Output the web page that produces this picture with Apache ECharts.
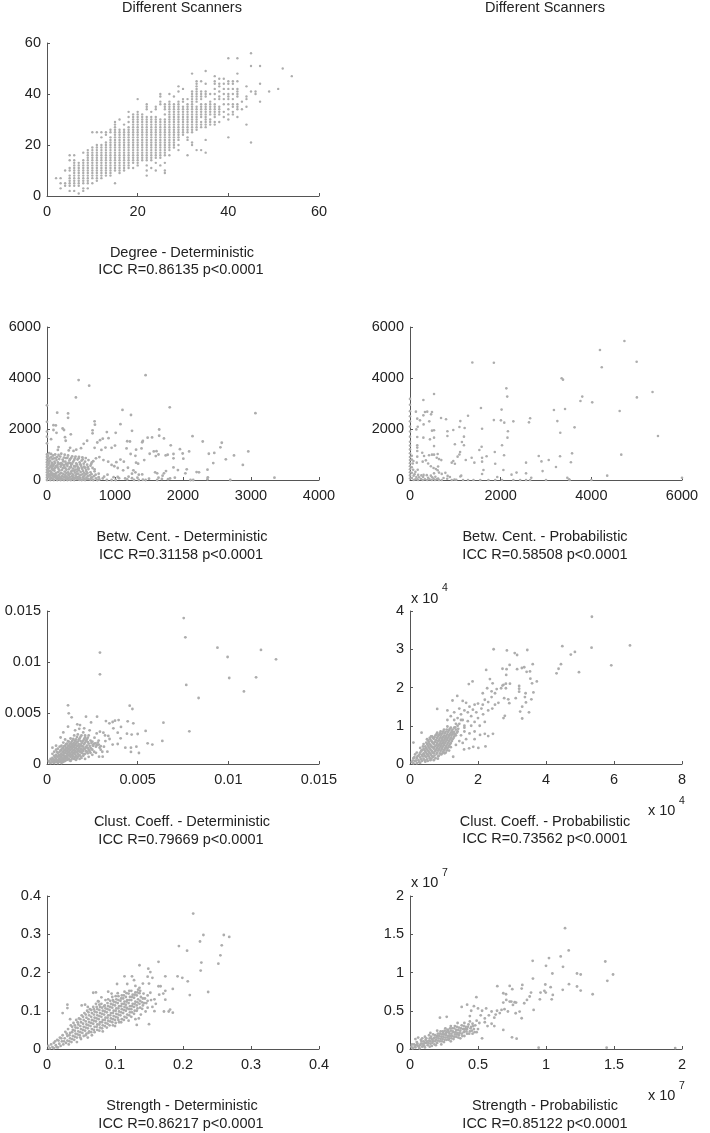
<!DOCTYPE html>
<html><head><meta charset="utf-8">
<style>html,body{margin:0;padding:0;background:#fff}#c{width:710px;height:1133px}</style>
<script src="https://cdn.jsdelivr.net/npm/echarts@6/dist/echarts.min.js"></script>
</head><body><div id="c"></div>
<script>
const degreeColumns=[
[2,[7]],[3,[3,5,7]],[4,[4,5,10]],[5,[2,4,5,6,7,8,10,11,14,16]],[6,[2,4,5,6,7,8,9,10,11,12,13,14,16]],
[7,[1,4,5,6,7,8,9,10,11,12,13]],[8,[2,3,5,6,7,8,9,10,11,12,13,14,17]],[9,[3,5,6,7,8,9,10,11,12,13,14,15,16,17,18]],
[10,[5,7,8,9,10,11,12,13,14,15,16,17,18,19,25]],[11,[6,7,8,9,10,11,12,13,14,15,16,17,18,19,20,25]],
[12,[7,8,9,10,11,12,13,14,15,16,17,18,19,20,23,25]],[13,[8,9,10,11,12,13,14,15,16,17,18,19,20,21,24,25]],
[14,[8,9,10,11,12,13,14,15,16,17,18,19,20,21,22,23,25,26]],[15,[5,10,11,12,13,14,15,16,17,18,19,20,21,22,23,24,25,26,27,28,29]],
[16,[9,10,11,12,13,14,15,16,17,18,19,20,21,22,23,24,25,26,30]],[17,[10,11,12,13,14,15,16,17,18,19,20,21,22,23,24,25,26,28]],
[18,[11,12,13,14,15,16,17,18,19,20,21,22,23,24,25,26,27,29,31,33]],[19,[11,13,14,15,16,17,18,19,20,21,22,23,24,25,26,27,28,29,30,31,32]],
[20,[12,13,14,15,16,17,18,19,20,21,22,23,24,25,26,27,28,29,30,31,32,33,38]],[21,[14,15,16,17,18,19,20,21,22,23,24,25,26,27,28,29,30,31,32]],
[22,[8,10,12,14,15,16,17,18,19,20,21,22,23,24,25,26,27,28,29,30,31,34,35,36]],[23,[11,14,15,16,17,18,19,20,21,22,23,24,25,26,27,28,29,30,31,33]],
[24,[10,13,15,16,17,18,19,20,21,22,23,24,25,26,27,28,29,30,31,34,35]],[25,[12,15,16,17,18,19,20,21,22,23,24,25,26,27,28,29,30,36,37,39,40]],
[26,[9,10,13,16,17,18,19,20,21,22,23,24,25,26,27,28,29,30,32,34,35,36]],[27,[16,18,19,20,21,22,23,24,25,26,27,28,29,30,31,32,33,34,35,36,37,40]],
[28,[19,20,21,22,23,24,25,26,27,28,29,30,31,32,33,34,35,36,39]],[29,[18,20,22,23,24,25,26,27,28,29,30,31,32,33,34,35,36,37,41,43]],
[30,[24,25,26,27,28,29,30,31,32,33,34,35,37,38,42]],[31,[16,22,23,25,26,27,28,29,30,31,32,33,34,35,36,38]],
[32,[20,21,25,26,27,28,29,30,31,32,33,34,35,36,37,38,39,40,41,48]],[33,[18,26,27,28,29,30,31,32,33,34,35,37,38,39,40,41,42,43,44,45]],
[34,[18,27,28,29,31,32,33,34,35,36,38,39,40,41,45]],[35,[17,22,27,28,29,30,31,32,33,34,35,36,39,40,41,44,49]],
[36,[28,29,30,32,33,34,35,36,37,40]],[37,[28,29,31,32,33,34,35,36,38,40,42,44,45,47]],
[38,[29,32,33,34,35,38,39,41,43,44,46]],[39,[31,33,36,38,40,42,44,46]],[40,[23,30,32,34,36,38,39,40,42,44,45,54]],
[41,[32,33,35,36,38,40,42,44,45]],[42,[31,34,35,36,39,40,41,42,45,48,54]],[43,[34,37]],[44,[28,35,38,39,43]],
[45,[21,41,51,56]],[46,[40,41]],[47,[37,44,51]],[49,[41]],[51,[42]],[52,[50]],[54,[47]]];

const betwDetOutliers=[[1450,4110],[465,3920],[620,3700],[425,3240],[0,2930],[150,2640],[310,2610],[310,2440],[1110,2750],[1235,2550],[700,2300],[705,2170],[1080,2190],[1805,2850],[3065,2620],[1250,1930],[1650,1980],[95,2150],[130,2140],[230,2020],[250,1960],[670,1950],[670,1830],[880,1880],[350,1790],[265,1680],[275,1540],[95,1960],[140,1850],[1650,1735],[2140,1720],[1480,1660],[1545,1670],[1720,1630],[2290,1510],[2570,1460],[2550,1280],[2960,1120],[2750,965],[2630,810],[2880,590],[2460,1060],[2380,1030],[2090,1120],[1955,1210],[1820,1360],[2445,665],[1860,1020],[1995,1040],[1745,965],[1775,990],[1860,850],[2005,835],[1860,495],[1925,390],[2055,420],[2035,260],[2200,310],[2235,300],[2360,405],[2365,105],[3345,90],[2695,0],[2110,0],[2150,0],[2360,30]];
const betwDetMid=[[1180,1520],[1220,1510],[1010,1850],[905,1640],[820,1620],[780,1560],[740,1470],[590,1540],[540,1420],[500,1250],[430,1190],[390,1140],[340,1260],[320,1160],[170,1290],[160,1180],[60,1600],[0,1440],[0,1700],[0,2280],[0,1900],[1000,1350],[950,1260],[860,1270],[800,1180],[700,1260],[1170,1240],[1310,1190],[1390,1240],[1400,1480],[1410,1530],[1310,680],[1340,640],[1510,1030],[1570,1120],[1610,1130],[1640,1000],[1600,940],[1430,780],[1300,950],[1230,1020],[1080,800],[1130,720],[1020,700],[950,590],[900,720],[830,780],[770,900],[720,850],[680,740],[1190,480],[1120,380],[1270,380],[1300,300],[1350,210],[1400,220],[1250,250],[1040,470],[990,540],[1040,120],[1060,70],[980,110],[890,210],[840,130],[820,60],[760,250],[700,340],[650,80],[1150,60],[1200,130],[1250,70],[1330,90],[1410,10],[1350,0],[1450,0],[1280,0],[1180,20],[1590,300],[1620,260],[1640,90],[1720,260],[1750,350],[1810,60],[1780,30],[1880,90],[1700,170],[1690,40],[1620,0],[1500,50],[880,0],[950,0],[1010,0],[740,0]];
const betwDetCloud=[[0,1000],[0,900],[0,800],[0,700],[0,600],[0,500],[0,400],[0,300],[0,200],[0,100],[0,0],[30,1050],[60,1020],[90,960],[120,1000],[170,980],[210,1030],[260,990],[310,960],[370,930],[420,920],[470,910],[520,890],[570,860],[40,870],[80,820],[130,870],[180,820],[230,800],[280,860],[340,820],[400,780],[450,800],[510,760],[610,780],[660,690],[30,730],[70,680],[110,720],[160,690],[210,660],[270,720],[320,680],[370,640],[430,650],[480,690],[540,640],[590,600],[640,560],[20,590],[60,560],[100,600],[150,560],[200,520],[250,580],[300,550],[350,500],[400,540],[450,520],[500,560],[560,480],[610,430],[670,470],[30,470],[70,430],[120,480],[170,430],[220,400],[270,460],[320,420],[370,370],[420,410],[470,380],[530,350],[580,330],[640,300],[700,420],[20,350],[60,310],[110,360],[160,310],[210,280],[260,330],[310,300],[360,260],[410,290],[460,250],[520,220],[570,230],[630,180],[690,150],[30,230],[70,190],[120,240],[170,190],[220,160],[270,210],[320,180],[370,150],[420,170],[470,130],[530,110],[580,90],[640,10],[20,120],[60,80],[110,130],[160,70],[210,60],[260,100],[310,70],[360,50],[410,80],[460,30],[510,0],[560,0],[50,0],[100,0],[150,0],[200,0],[250,0],[300,0],[350,0],[400,0],[680,0],[760,110]];
const betwDetFill=[[15,950],[45,760],[85,540],[140,780],[190,640],[240,730],[290,610],[330,770],[385,720],[440,600],[490,620],[545,520],[600,500],[650,630],[15,640],[45,520],[85,390],[135,540],[185,370],[235,470],[285,400],[335,490],[385,450],[440,330],[495,310],[545,280],[595,270],[655,230],[715,210],[15,410],[45,350],[85,250],[135,270],[190,250],[240,240],[285,280],[335,240],[385,210],[435,230],[490,190],[550,170],[600,160],[15,280],[45,140],[90,130],[135,170],[185,130],[240,130],[290,130],[335,120],[385,100],[440,110],[490,80],[550,50],[610,40],[15,180],[40,40],[85,40],[130,60],[180,30],[230,30],[280,40],[330,20],[385,30],[435,40],[480,10],[530,20],[590,40],[660,100],[720,60],[770,20],[120,130],[65,260],[105,430],[155,500],[205,590],[255,520],[305,640],[355,590],[415,530],[465,460],[520,430],[575,400],[25,830],[65,900],[105,850],[150,900],[195,920],[250,880],[300,870],[355,860],[410,850],[465,850],[525,810],[560,720],[75,620],[115,660],[165,620],[225,610],[280,640],[345,660],[40,210],[100,190],[150,120],[205,90],[270,150],[315,220],[355,330],[400,360],[450,420],[510,480],[75,480],[30,650]];

const betwProbOutliers=[[4730,5450],[4190,5100],[1375,4610],[1850,4600],[5000,4640],[4230,4420],[3345,3990],[3375,3935],[2125,3595],[5350,3450],[530,3370],[2145,3270],[3800,3270],[5005,3240],[295,3140],[0,3180],[3760,3100],[4020,3045],[1565,2825],[2020,2760],[3175,2745],[3420,2785],[4625,2705],[130,2680],[330,2665],[380,2680],[485,2665],[465,2575],[295,2535],[1280,2520],[685,2430],[795,2380],[160,2405],[220,2340],[425,2300],[1110,2310],[300,2180],[170,2090],[140,1985],[1850,2350],[2005,2340],[2080,2250],[2280,2300],[2650,2420],[2625,2260],[3250,2310],[3630,2065],[3315,1855],[1090,2080],[1205,2040],[1590,2010],[2160,1910],[2150,1660],[5470,1725],[825,1910],[825,1725],[955,1960],[485,1935],[530,1950],[160,1685],[295,1660],[440,1595],[530,1660],[1190,1700],[1145,1490],[1190,1360],[990,1400],[530,1330],[160,1360],[160,1270],[160,1135],[1580,1305],[1530,1175],[2030,1360],[1870,1100],[2075,970],[1105,1100],[1090,1000],[1050,915],[270,1070],[310,940],[420,970],[485,995],[530,995],[610,1020],[590,875],[160,915],[280,720],[150,680],[75,745],[955,745],[920,680],[990,640],[1360,875],[1420,680],[1230,785],[1590,875],[1590,720],[1690,930],[1880,640],[2840,940],[2900,730],[3060,785],[2560,680],[3310,930],[3220,510],[3575,1045],[3550,695],[4660,995],[2925,350],[4350,170],[1620,390],[1590,235],[2060,390],[2350,290],[2240,210],[2560,260],[1925,115],[6000,90],[3470,90],[3510,25],[2675,90],[2650,0],[2430,0],[2560,0],[2280,0],[2030,0],[1880,0],[1730,0],[1550,0],[1400,0],[1280,0],[1170,0],[920,0],[700,0],[3000,0],[3520,0],[4000,0]];
const betwProbCloud=[[0,2950],[0,2700],[0,2500],[0,2300],[0,2100],[0,1900],[0,1700],[0,1500],[0,1350],[0,1200],[0,1050],[0,900],[0,780],[0,660],[0,540],[0,420],[0,300],[0,180],[0,60],[40,950],[40,800],[60,650],[40,500],[70,400],[40,280],[80,170],[40,80],[120,320],[100,230],[140,120],[120,30],[180,200],[200,110],[240,40],[170,400],[250,180],[290,120],[330,30],[300,200],[370,190],[400,90],[430,30],[460,170],[490,110],[520,50],[560,130],[590,30],[620,60],[530,260],[460,540],[520,470],[570,430],[610,380],[640,290],[700,240],[780,280],[830,160],[740,80],[820,50],[880,120],[400,650],[350,770],[620,530],[690,780],[640,820],[160,30],[80,0],[180,0],[280,0],[380,0],[480,0],[550,0],[640,0],[1110,140],[1130,170],[980,20],[1020,10]];

const clustDetOutliers=[[.00754,.01431],[.00763,.01242],[.0094,.0114],[.00996,.01049],[.0118,.01118],[.01263,.01026],[.00292,.01092],[.00292,.00879],[.01005,.00843],[.01153,.0085],[.00768,.00775],[.01086,.00712],[.00836,.00647],[.00785,.0032],[.00116,.00575],[.0012,.00497],[.00136,.00458],[.00116,.00366],[.00215,.00464],[.00276,.00464],[.00456,.00572],[.00471,.00539],[.00445,.00418],[.00476,.00399],[.00642,.00405],[.00544,.00324],[.00636,.00226],[.00555,.00203],[.00581,.0019],[.00507,.00108],[.00493,.0017],[.00463,.0016],[.00463,.00118],[.00432,.0016],[.00408,.00363],[.00395,.00431],[.00375,.00425],[.00362,.00412],[.00344,.00399],[.00325,.00421],[.00243,.00408],[.00182,.00382],[.00167,.00389],[.00441,.00297],[.00467,.00288],[.005,.00294],[.0039,.00307],[.00366,.0035],[.00406,.00252],[.0039,.00196],[.00362,.0019],[.00333,.00121],[.00307,.00072],[.00287,.00072],[.00314,.0017],[.00338,.00275],[.00292,.00317],[.00311,.00307],[.00274,.003],[.00267,.00203],[.00285,.0023],[.00296,.00175],[.00253,.00185],[.00322,.00225],[.00345,.00245],[.0032,.0028],[.00305,.0012],[.0027,.0011],[.00296,.0014],[.00262,.00258],[.00235,.0033],[.00205,.0035],[.00178,.00345],[.0021,.0028],[.00155,.0033],[.0009,.0031],[.00075,.0026],[.0005,.0018],[.0003,.0016]];
const clustDetCloud=[[.0001,.0003],[.0002,.0001],[.0002,.0005],[.0003,.0002],[.0003,.0006],[.0003,.001],[.0004,.0001],[.0004,.0004],[.0004,.0008],[.0004,.0012],[.0005,.0002],[.0005,.0005],[.0005,.0009],[.0005,.0014],[.0006,.0001],[.0006,.0003],[.0006,.0007],[.0006,.0011],[.0006,.0015],[.0007,.0002],[.0007,.0005],[.0007,.0008],[.0007,.0012],[.0007,.0017],[.0008,.0001],[.0008,.0004],[.0008,.0007],[.0008,.001],[.0008,.0014],[.0008,.0018],[.0009,.0002],[.0009,.0005],[.0009,.0009],[.0009,.0012],[.0009,.0016],[.0009,.0021],[.001,.0003],[.001,.0006],[.001,.0008],[.001,.0011],[.001,.0014],[.001,.0018],[.001,.0024],[.0011,.0004],[.0011,.0007],[.0011,.001],[.0011,.0013],[.0011,.0016],[.0011,.002],[.0012,.0005],[.0012,.0009],[.0012,.0012],[.0012,.0015],[.0012,.0018],[.0012,.0022],[.0013,.0003],[.0013,.0007],[.0013,.001],[.0013,.0014],[.0013,.0017],[.0013,.002],[.0013,.0025],[.0014,.0006],[.0014,.0009],[.0014,.0012],[.0014,.0016],[.0014,.0019],[.0014,.0023],[.0015,.0005],[.0015,.0011],[.0015,.0014],[.0015,.0018],[.0015,.0021],[.0015,.0028],[.0016,.0004],[.0016,.0008],[.0016,.0012],[.0016,.0016],[.0016,.002],[.0016,.0024],[.0017,.0007],[.0017,.001],[.0017,.0014],[.0017,.0018],[.0017,.0022],[.0017,.0029],[.0018,.0005],[.0018,.0009],[.0018,.0013],[.0018,.0017],[.0018,.0025],[.0019,.0006],[.0019,.0012],[.0019,.0015],[.0019,.002],[.0019,.0028],[.002,.0008],[.002,.0013],[.002,.0017],[.002,.0023],[.002,.0031],[.0021,.0005],[.0021,.001],[.0021,.0015],[.0021,.0021],[.0021,.0026],[.0022,.0012],[.0022,.0018],[.0022,.0024],[.0023,.0007],[.0023,.0014],[.0023,.002],[.0023,.0028],[.0024,.0011],[.0024,.0016],[.0024,.0023],[.0025,.0009],[.0025,.0014],[.0025,.0022],[.0026,.0012],[.0026,.002],[.0027,.0017],[.0028,.0021],[.0029,.0016]];
const clustDetFill=[[.00015,.00015],[.00025,.00035],[.00035,.00015],[.00035,.00045],[.00045,.00025],[.00045,.00065],[.00055,.00035],[.00055,.00075],[.00055,.00118],[.00065,.00025],[.00065,.0005],[.00065,.0009],[.00075,.00035],[.00075,.00065],[.00075,.00095],[.00075,.00135],[.00085,.00025],[.00085,.00055],[.00085,.00085],[.00085,.00118],[.00085,.00155],[.00095,.00035],[.00095,.00068],[.00095,.00105],[.00095,.00135],[.00095,.00175],[.00105,.00045],[.00105,.00075],[.00105,.00125],[.00105,.00155],[.00105,.00195],[.00115,.00055],[.00115,.00085],[.00115,.00115],[.00115,.00145],[.00115,.00178],[.00115,.00225],[.00125,.00035],[.00125,.00075],[.00125,.00105],[.00125,.00135],[.00125,.00165],[.00125,.00198],[.00135,.00045],[.00135,.00085],[.00135,.00118],[.00135,.00148],[.00135,.00178],[.00135,.00215],[.00145,.00075],[.00145,.00105],[.00145,.00135],[.00145,.00168],[.00145,.00198],[.00145,.00245],[.00155,.00065],[.00155,.00095],[.00155,.00128],[.00155,.00158],[.00155,.00188],[.00155,.00228],[.00165,.00055],[.00165,.00115],[.00165,.00145],[.00165,.00178],[.00165,.00212],[.00165,.00265],[.00175,.00085],[.00175,.00125],[.00175,.00158],[.00175,.00195],[.00175,.00238],[.00185,.00075],[.00185,.00115],[.00185,.00148],[.00185,.00185],[.00185,.00225],[.00185,.00268],[.00195,.00105],[.00195,.00138],[.00195,.00175],[.00195,.00215],[.00205,.00095],[.00205,.00148],[.00205,.00195],[.00205,.00245],[.00215,.00125],[.00215,.00165],[.00215,.00228],[.00225,.00105],[.00225,.00155],[.00225,.00215],[.00225,.00258],[.00235,.00125],[.00235,.00178],[.00245,.00148],[.00245,.00205],[.00255,.00178],[.00275,.00185],[.00285,.0019]];

const clustProbOutliers=[[5.35,3.85],[6.47,3.1],[4.48,3.08],[5.34,3.04],[2.46,3],[2.85,2.97],[3.45,2.98],[3.08,2.9],[3.15,2.85],[4.85,2.93],[4.73,2.86],[4.44,2.61],[5.92,2.58],[3.61,2.61],[4.37,2.49],[4.31,2.37],[4.97,2.4],[2.93,2.59],[2.72,2.49],[2.84,2.48],[2.83,2.33],[2.24,2.46],[3.15,2.48],[3.29,2.51],[3.36,2.53],[3.43,2.41],[3.53,2.42],[3.54,2.23],[3.73,2.16],[3.59,2.11],[3.21,2.04],[3.21,1.97],[3.21,1.89],[3.4,1.85],[3.63,1.87],[3.38,1.75],[3.57,1.69],[3.41,1.61],[3.3,1.5],[3.24,1.37],[3.5,1.35],[3.3,1.19],[2.75,1.2],[2.79,1.26],[2.92,1.59],[2.89,1.69],[2.77,1.72],[3.11,1.72],[2.94,2.1],[2.75,2.07],[2.82,1.98],[2.68,1.98],[2.55,1.96],[2.35,2.22],[2.43,2.11],[2.27,1.98],[2.14,1.85],[1.84,2.16],[1.73,2.09],[1.25,1.66],[1.39,1.78],[1.1,1.4],[.8,1.44],[.34,.82],[.1,.56],[2.44,.79],[2.3,.73],[2.2,.79],[2.06,.76],[2.22,.46],[2.01,.42],[1.86,.45],[1.74,.41],[1.59,.38],[1.27,.19],[2.6,1.6],[2.5,1.85],[2.4,1.9],[2.72,2.05],[2.82,2.1]];
const clustProbMid=[[2.4,1.75],[2.3,1.62],[2.2,1.68],[2.14,1.55],[2.5,1.55],[2.42,1.45],[2.3,1.4],[2.1,1.45],[2.15,1.3],[2,1.58],[1.9,1.55],[1.85,1.42],[1.95,1.35],[1.8,1.25],[2,1.2],[1.9,1.1],[1.75,1.5],[1.65,1.6],[1.55,1.65],[1.7,1.35],[1.6,1.4],[1.5,1.3],[1.55,1.15],[1.7,1.12],[1.8,1],[2.2,1.1],[2.05,1],[1.6,1],[1.45,1.45],[1.3,1.35],[1.4,1.2],[1.3,1.15],[1.45,1.05],[1.2,1.25],[1.1,1.15],[1.9,.85],[1.75,.8],[1.6,.85],[1.5,.75],[1.65,.65],[1.45,.6],[1.35,.5],[1.2,.55],[1.4,.85],[1.3,.95],[1.35,.75],[1.25,.65],[1.55,.55],[1.9,.65]];
const clustProbCloud=[[.05,.05],[.1,.02],[.1,.15],[.15,.08],[.15,.25],[.2,.02],[.2,.15],[.2,.3],[.25,.1],[.25,.22],[.3,.03],[.3,.17],[.3,.3],[.3,.42],[.35,.08],[.35,.24],[.35,.36],[.4,.14],[.4,.28],[.4,.4],[.4,.52],[.45,.06],[.45,.2],[.45,.33],[.45,.46],[.5,.12],[.5,.26],[.5,.38],[.5,.52],[.5,.65],[.55,.2],[.55,.32],[.55,.44],[.55,.58],[.6,.1],[.6,.27],[.6,.38],[.6,.5],[.6,.64],[.65,.2],[.65,.33],[.65,.45],[.65,.58],[.65,.72],[.7,.28],[.7,.4],[.7,.52],[.7,.66],[.75,.15],[.75,.35],[.75,.47],[.75,.6],[.75,.75],[.8,.3],[.8,.42],[.8,.55],[.8,.68],[.8,.82],[.85,.22],[.85,.38],[.85,.5],[.85,.62],[.85,.76],[.9,.34],[.9,.46],[.9,.58],[.9,.7],[.9,.85],[.95,.28],[.95,.42],[.95,.54],[.95,.66],[.95,.8],[1,.36],[1,.5],[1,.62],[1,.74],[1,.9],[1.05,.3],[1.05,.44],[1.05,.58],[1.05,.7],[1.05,.84],[1.1,.4],[1.1,.52],[1.1,.66],[1.1,.78],[1.1,.98],[1.15,.35],[1.15,.48],[1.15,.6],[1.15,.74],[1.15,.88],[1.2,.44],[1.2,.68],[1.2,.82],[1.2,.95],[1.25,.78],[1.25,.9],[1.3,.72],[1.3,.84],[1.35,.9],[1.4,1],[1.35,1.05]];
const clustProbFill=[[.08,.09],[.13,.18],[.18,.09],[.22,.2],[.27,.05],[.28,.25],[.33,.12],[.33,.34],[.37,.2],[.38,.46],[.43,.1],[.42,.24],[.43,.36],[.48,.18],[.47,.3],[.47,.42],[.48,.56],[.52,.08],[.53,.23],[.53,.35],[.53,.48],[.53,.62],[.58,.15],[.57,.29],[.58,.41],[.57,.53],[.58,.68],[.63,.14],[.62,.24],[.63,.35],[.62,.47],[.63,.6],[.62,.72],[.68,.18],[.67,.3],[.68,.43],[.67,.55],[.68,.68],[.72,.22],[.73,.33],[.72,.45],[.73,.57],[.72,.7],[.78,.26],[.77,.38],[.78,.5],[.77,.63],[.78,.78],[.83,.2],[.83,.35],[.82,.47],[.83,.6],[.82,.72],[.88,.28],[.87,.42],[.88,.54],[.87,.66],[.88,.8],[.92,.25],[.93,.38],[.92,.5],[.93,.62],[.92,.76],[.98,.32],[.97,.46],[.98,.58],[.97,.7],[.98,.85],[1.03,.4],[1.02,.54],[1.03,.66],[1.02,.8],[1.08,.35],[1.07,.48],[1.08,.62],[1.07,.74],[1.08,.9],[1.13,.44],[1.12,.56],[1.13,.7],[1.12,.84],[1.18,.52],[1.17,.64],[1.18,.78],[1.17,.92],[1.23,.6],[1.22,.74],[1.23,.86],[1.27,.82],[1.28,.68],[1.32,.78],[1.33,.96],[1.38,.82],[1.42,.92],[1.5,1.15],[1.6,.95],[1.02,.28],[.7,.1],[.82,.14]];

const strengthDetOutliers=[[.215,.354],[.23,.298],[.225,.281],[.26,.298],[.268,.293],[.257,.271],[.194,.269],[.206,.257],[.255,.245],[.227,.226],[.252,.223],[.226,.205],[.164,.228],[.136,.219],[.149,.21],[.192,.19],[.199,.186],[.207,.177],[.174,.19],[.185,.157],[.21,.141],[.237,.149],[.167,.164],[.164,.164],[.174,.152],[.171,.145],[.174,.129],[.181,.103],[.185,.095],[.172,.098],[.179,.098],[.158,.099],[.15,.065],[.152,.201],[.155,.186],[.148,.189],[.141,.171],[.15,.171],[.114,.19],[.125,.19],[.128,.18],[.103,.17],[.072,.148],[.068,.147],[.051,.114],[.03,.116],[.03,.107],[.023,.094],[.034,.078],[.165,.142],[.158,.13],[.16,.118],[.152,.147],[.148,.14],[.153,.128],[.146,.12],[.14,.105],[.155,.11],[.145,.098],[.135,.08],[.132,.063],[.118,.17],[.13,.165],[.136,.16],[.09,.15],[.08,.135],[.095,.145],[.056,.116],[.075,.125],[.06,.11]];
const strengthDetBand=[[.002,.008],[.004,.002],[.006,.012],[.008,.005],[.01,.016],[.01,.002],[.013,.01],[.015,.024],[.016,.004],[.018,.014],[.019,.03],[.02,.008],[.022,.02],[.023,.036],[.024,.012],[.026,.028],[.027,.045],[.028,.016],[.03,.022],[.03,.034],[.031,.052],[.032,.012],[.034,.028],[.034,.042],[.035,.062],[.036,.018],[.038,.034],[.038,.05],[.039,.068],[.04,.024],[.042,.04],[.042,.056],[.043,.076],[.044,.018],[.044,.03],[.046,.046],[.046,.064],[.047,.08],[.048,.036],[.05,.026],[.05,.052],[.05,.07],[.051,.088],[.052,.042],[.054,.034],[.054,.058],[.054,.076],[.055,.094],[.056,.048],[.058,.04],[.058,.064],[.058,.082],[.059,.1],[.06,.03],[.06,.054],[.062,.046],[.062,.07],[.062,.088],[.063,.104],[.064,.06],[.066,.036],[.066,.052],[.066,.076],[.066,.094],[.068,.066],[.068,.11],[.07,.044],[.07,.058],[.07,.082],[.07,.098],[.072,.072],[.072,.118],[.074,.05],[.074,.064],[.074,.088],[.074,.104],[.076,.078],[.076,.124],[.078,.056],[.078,.07],[.078,.094],[.078,.11],[.08,.084],[.08,.118],[.082,.046],[.082,.062],[.082,.076],[.082,.1],[.084,.09],[.084,.112],[.086,.068],[.086,.082],[.086,.106],[.086,.128],[.088,.056],[.088,.096],[.09,.074],[.09,.088],[.09,.112],[.09,.13],[.092,.062],[.092,.102],[.094,.08],[.094,.094],[.094,.118],[.096,.07],[.096,.108],[.096,.136],[.098,.086],[.098,.1],[.098,.124],[.1,.06],[.1,.076],[.1,.114],[.102,.092],[.102,.106],[.102,.13],[.104,.082],[.104,.12],[.104,.146],[.106,.07],[.106,.098],[.106,.112],[.108,.088],[.108,.126],[.11,.078],[.11,.104],[.11,.118],[.11,.14],[.112,.094],[.112,.132],[.114,.084],[.114,.11],[.114,.124],[.114,.15],[.116,.1],[.116,.116],[.116,.136],[.118,.09],[.118,.106],[.118,.128],[.12,.074],[.12,.12],[.12,.145],[.122,.096],[.122,.112],[.122,.136],[.124,.084],[.124,.104],[.124,.128],[.124,.152],[.126,.118],[.126,.142],[.128,.092],[.128,.11],[.128,.134],[.13,.078],[.13,.124],[.13,.148],[.132,.1],[.132,.114],[.132,.14],[.134,.13],[.134,.155],[.136,.118],[.136,.146],[.138,.09],[.138,.136],[.14,.122],[.142,.145],[.144,.132]];
const strengthDetFill=[[.012,.02],[.014,.005],[.017,.022],[.021,.028],[.025,.02],[.029,.04],[.033,.02],[.033,.036],[.037,.026],[.037,.044],[.037,.058],[.041,.032],[.041,.048],[.041,.062],[.045,.038],[.045,.055],[.045,.07],[.049,.03],[.049,.044],[.049,.06],[.049,.078],[.053,.05],[.053,.066],[.053,.084],[.057,.036],[.057,.056],[.057,.072],[.057,.09],[.061,.042],[.061,.062],[.061,.078],[.061,.096],[.065,.044],[.065,.068],[.065,.084],[.065,.102],[.069,.05],[.069,.074],[.069,.09],[.069,.104],[.073,.058],[.073,.08],[.073,.096],[.073,.11],[.077,.048],[.077,.064],[.077,.086],[.077,.102],[.077,.116],[.081,.054],[.081,.07],[.081,.092],[.081,.108],[.085,.06],[.085,.076],[.085,.098],[.085,.114],[.089,.066],[.089,.082],[.089,.104],[.089,.12],[.093,.072],[.093,.088],[.093,.11],[.093,.126],[.097,.062],[.097,.078],[.097,.094],[.097,.116],[.097,.128],[.101,.068],[.101,.084],[.101,.1],[.101,.122],[.101,.138],[.105,.076],[.105,.09],[.105,.106],[.105,.128],[.105,.138],[.109,.07],[.109,.096],[.109,.112],[.109,.132],[.113,.076],[.113,.102],[.113,.118],[.113,.14],[.117,.082],[.117,.108],[.117,.124],[.117,.146],[.121,.088],[.121,.104],[.121,.128],[.121,.152],[.125,.096],[.125,.112],[.125,.136],[.129,.1],[.129,.118],[.129,.142],[.133,.106],[.133,.122],[.133,.148],[.137,.108],[.137,.126],[.137,.152],[.141,.114],[.141,.132],[.143,.12],[.148,.126],[.148,.108]];

const strengthProbOutliers=[[1.14,1.58],[1.167,1.288],[1.108,1.21],[1.022,1.188],[.902,1.153],[1.436,1.144],[1,1.087],[1.125,1.074],[1.047,.987],[1.228,.987],[1.255,.974],[1.493,.974],[1.451,.891],[.904,.921],[1.169,.847],[.995,.843],[.826,.838],[1.034,.808],[1.228,.817],[.642,.821],[.733,.825],[.752,.782],[.821,.79],[1.255,.764],[1.123,.773],[.988,.76],[.96,.738],[.998,.738],[.89,.738],[1.343,.716],[1.05,.707],[1.042,.65],[.955,.65],[.488,.677],[.686,.729],[.706,.716],[.88,.686],[.86,.642],[.84,.598],[.77,.611],[.745,.62],[.757,.576],[.78,.607],[.733,.62],[.708,.642],[.686,.607],[.806,.489],[.777,.467],[.909,.511],[.821,.402],[.686,.249],[.75,.153],[.784,.135],[1.446,.017],[.946,.017],[1.95,.012],[.673,.511],[.64,.5],[.72,.49],[.695,.52],[.66,.47],[.63,.45],[.6,.49],[.62,.41],[.58,.44],[.56,.53],[.55,.4],[.53,.5],[.52,.44],[.5,.53],[.47,.56],[.42,.58],[.45,.5],[.44,.43],[.49,.37],[.55,.35],[.6,.33],[.62,.3],[.57,.3],[.5,.26],[.53,.14],[.38,.55],[.27,.42],[.22,.41],[.06,.15]];
const strengthProbBand=[[.01,.03],[.02,.01],[.03,.06],[.04,.02],[.05,.09],[.06,.04],[.07,.01],[.08,.07],[.08,.12],[.09,.03],[.1,.05],[.1,.1],[.11,.02],[.12,.08],[.12,.14],[.13,.05],[.14,.11],[.14,.18],[.15,.07],[.16,.04],[.16,.13],[.17,.1],[.17,.19],[.18,.06],[.18,.15],[.19,.12],[.2,.08],[.2,.17],[.2,.24],[.21,.14],[.22,.1],[.22,.2],[.23,.06],[.23,.16],[.24,.13],[.24,.23],[.25,.09],[.25,.19],[.26,.15],[.26,.27],[.27,.12],[.27,.22],[.28,.17],[.28,.25],[.29,.14],[.29,.2],[.3,.1],[.3,.24],[.3,.3],[.31,.17],[.31,.27],[.32,.13],[.32,.22],[.33,.19],[.33,.3],[.34,.16],[.34,.25],[.35,.21],[.35,.34],[.36,.18],[.36,.28],[.37,.14],[.37,.24],[.38,.2],[.38,.31],[.39,.26],[.4,.17],[.4,.23],[.4,.34],[.41,.29],[.42,.2],[.42,.26],[.43,.32],[.44,.23],[.44,.36],[.45,.29],[.46,.2],[.46,.33],[.47,.26],[.48,.31],[.49,.22],[.51,.34]];
const strengthProbFill=[[.015,.06],[.035,.03],[.045,.05],[.055,.07],[.065,.03],[.075,.05],[.085,.1],[.095,.07],[.105,.04],[.11,.08],[.115,.12],[.125,.1],[.135,.08],[.145,.14],[.15,.1],[.155,.16],[.165,.08],[.165,.12],[.175,.14],[.185,.1],[.185,.18],[.195,.15],[.205,.11],[.205,.2],[.215,.17],[.225,.13],[.225,.23],[.235,.1],[.235,.19],[.245,.16],[.245,.21],[.255,.12],[.255,.24],[.265,.18],[.265,.21],[.275,.15],[.275,.25],[.285,.12],[.285,.22],[.295,.17],[.295,.27],[.305,.14],[.305,.2],[.315,.23],[.325,.16],[.325,.27],[.335,.22],[.345,.19],[.345,.29],[.355,.15],[.355,.25],[.365,.21],[.375,.27],[.385,.17],[.395,.22],[.395,.3],[.405,.26],[.415,.23],[.425,.29],[.435,.2],[.445,.27],[.455,.24],[.465,.3],[.475,.22],[.145,.03],[.19,.05],[.11,.16],[.15,.21],[.04,.13],[.09,.14]];

const ticksDegree=[0,20,40,60];
const ticksBetwDet=[0,1000,2000,3000,4000];
const ticksBetwY=[0,2000,4000,6000];
const ticksClustDet=[0,0.005,0.01,0.015];
const ticksClustProbX=[0,2,4,6,8];
const ticksClustProbY=[0,1,2,3,4];
const ticksStrengthDet=[0,0.1,0.2,0.3,0.4];
const ticksStrengthProb=[0,0.5,1,1.5,2];

const degreePoints=degreeColumns.flatMap(c=>c[1].map(y=>[c[0],y]));

const panels=[
 {l:47,t:43,b:196,tx:ticksDegree,ty:ticksDegree,d:degreePoints,s:2.4},
 {l:47,t:327,b:480,tx:ticksBetwDet,ty:ticksBetwY,d:[...betwDetCloud,...betwDetFill,...betwDetMid,...betwDetOutliers],s:2.8},
 {l:410,t:327,b:480,tx:ticksBetwY,ty:ticksBetwY,d:[...betwProbCloud,...betwProbOutliers],s:2.6},
 {l:47,t:611,b:764,tx:ticksClustDet,ty:ticksClustDet,d:[...clustDetCloud,...clustDetFill,...clustDetOutliers],s:2.8},
 {l:410,t:611,b:764,tx:ticksClustProbX,ty:ticksClustProbY,d:[...clustProbCloud,...clustProbFill,...clustProbMid,...clustProbOutliers],s:2.8},
 {l:47,t:896,b:1049,tx:ticksStrengthDet,ty:ticksStrengthDet,d:[...strengthDetBand,...strengthDetFill,...strengthDetOutliers],s:2.8},
 {l:410,t:896,b:1049,tx:ticksStrengthProb,ty:ticksStrengthProb,d:[...strengthProbBand,...strengthProbFill,...strengthProbOutliers],s:2.8}
];
const FONT='"Liberation Sans",Helvetica,Arial,sans-serif';
const captions=[
 ['Different Scanners',182,8],['Different Scanners',545,8],
 ['Degree - Deterministic',182,253],['ICC R=0.86135 p<0.0001',181,270],
 ['Betw. Cent. - Deterministic',182,537],['ICC R=0.31158 p<0.0001',181,555],
 ['Betw. Cent. - Probabilistic',545,537],['ICC R=0.58508 p<0.0001',545,555],
 ['Clust. Coeff. - Deterministic',182,822],['ICC R=0.79669 p<0.0001',181,840],
 ['Clust. Coeff. - Probabilistic',545,822],['ICC R=0.73562 p<0.0001',545,839],
 ['Strength - Deterministic',182,1106],['ICC R=0.86217 p<0.0001',181,1124],
 ['Strength - Probabilistic',545,1106],['ICC R=0.85122 p<0.0001',545,1124]
];
const exponents=[['x 10',411,599,'4',442,588],['x 10',648,811,'4',679,801],['x 10',411,883,'7',442,873],['x 10',648,1096,'7',679,1086]];
const txt=(s,x,y,align,size)=>({type:'text',x,y,style:{text:s,x:0,y:0,align,verticalAlign:'middle',font:size+'px '+FONT,fill:'#222'},silent:true});
const graphic=[...captions.map(c=>txt(c[0],c[1],c[2],'center',14.5)),
 ...exponents.flatMap(e=>[txt(e[0],e[1],e[2],'left',14.5),txt(e[3],e[4],e[5],'left',10.5)])];
const axis=(ticks,pos,i)=>({type:'value',gridIndex:i,position:pos,min:0,max:ticks[ticks.length-1],interval:ticks[1],
 splitLine:{show:false},axisLine:{onZero:false,lineStyle:{color:'#555',width:1}},
 axisTick:{inside:true,length:3,lineStyle:{color:'#555',width:1}},
 axisLabel:{color:'#222',fontSize:14.5,fontFamily:FONT,margin:pos==='bottom'?8:6,hideOverlap:false,showMinLabel:true,showMaxLabel:true,formatter:v=>String(+v.toFixed(4))}});
const chart=echarts.init(document.getElementById('c'),null,{renderer:'canvas'});
chart.setOption({animation:false,backgroundColor:'#fff',
 grid:panels.map(p=>({left:p.l,top:p.t,width:272,height:p.b-p.t,containLabel:false})),
 xAxis:panels.map((p,i)=>axis(p.tx,'bottom',i)),
 yAxis:panels.map((p,i)=>axis(p.ty,'left',i)),
 series:panels.map((p,i)=>({type:'scatter',xAxisIndex:i,yAxisIndex:i,data:p.d,symbol:'circle',symbolSize:p.s,clip:false,
   itemStyle:{color:'#adadad',opacity:1},silent:true,large:false})),
 graphic});
</script></body></html>
